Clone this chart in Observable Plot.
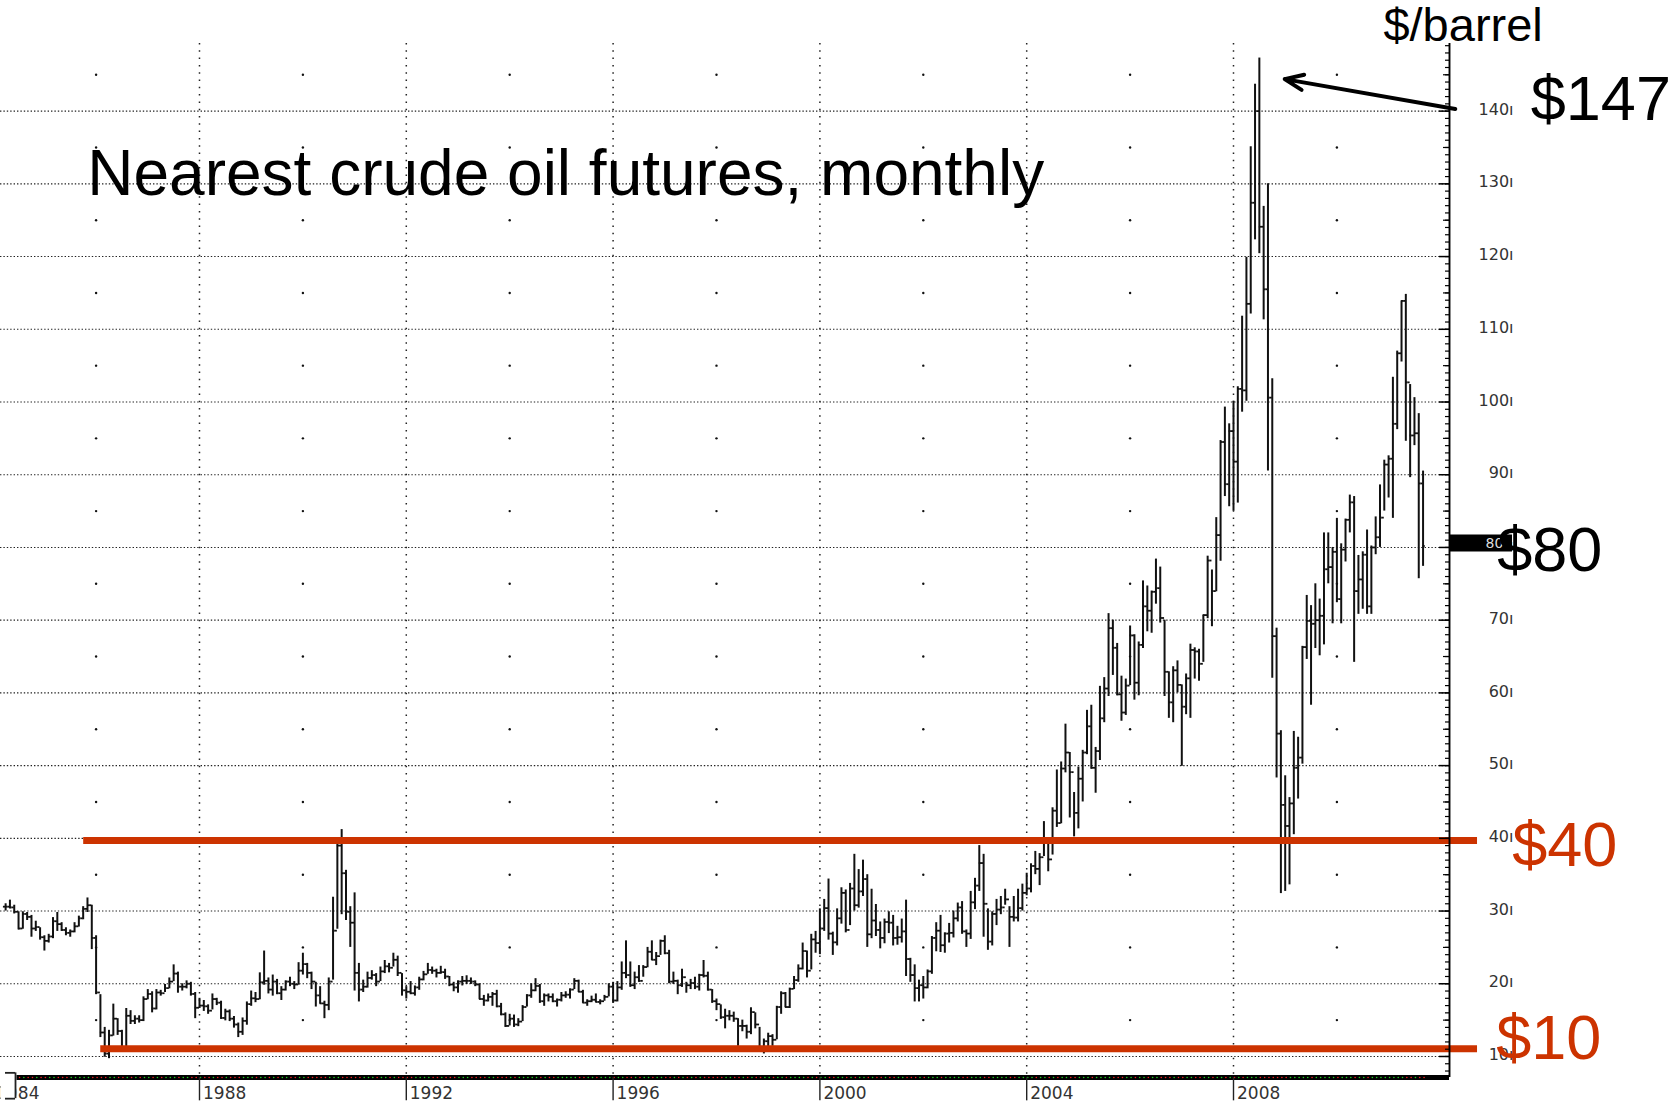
<!DOCTYPE html>
<html><head><meta charset="utf-8">
<script src="https://cdn.jsdelivr.net/npm/d3@7"></script>
<script src="https://cdn.jsdelivr.net/npm/@observablehq/plot@0.6"></script>
<style>
html,body{margin:0;padding:0;background:#fff;}
#chart{width:1671px;height:1103px;overflow:hidden;}
</style></head><body><div id="chart"></div>
<script>
// First bar: April 1984, monthly nearest crude oil futures ($/barrel)
const firstYear = 1984, firstMonth = 4;

const high = [
  31.0, 31.5, 30.8, 29.9, 29.9, 29.8, 29.4, 28.6, 27.7,                 // 1984 Apr-Dec
  26.6, 26.8, 29.1, 29.8, 28.4, 27.7, 27.4, 28.4, 29.3, 30.6, 31.8, 30.8, // 1985
  26.6, 18.5, 14.0, 13.6, 17.2, 15.2, 13.6, 16.6, 16.3, 15.6, 15.6, 18.2, // 1986
  19.2, 18.9, 19.2, 19.1, 19.9, 20.8, 22.6, 21.6, 20.0, 20.4, 20.2, 18.8, // 1987
  18.0, 17.7, 17.1, 18.6, 18.0, 17.6, 16.5, 16.4, 15.5, 14.6, 15.3, 17.5, // 1988
  19.0, 18.8, 21.5, 24.5, 20.8, 21.2, 20.6, 19.6, 20.4, 20.9, 20.3, 22.9, // 1989
  24.2, 22.8, 21.6, 20.2, 19.6, 17.6, 20.8, 31.9, 39.8, 41.2, 35.6, 30.6, // 1990
  32.5, 22.8, 20.5, 21.6, 21.8, 21.4, 22.3, 23.2, 22.8, 24.2, 23.8, 21.4, // 1991
  19.6, 20.3, 19.7, 20.9, 21.7, 22.8, 22.3, 22.0, 22.4, 22.0, 21.0, 20.2, // 1992
  20.4, 21.0, 21.1, 20.8, 20.4, 20.0, 18.4, 18.6, 18.8, 19.1, 17.3, 16.0, // 1993
  15.8, 15.7, 15.2, 17.0, 18.5, 20.0, 20.7, 19.9, 18.6, 18.6, 18.6, 17.9, // 1994
  18.8, 18.9, 19.3, 20.7, 20.5, 19.1, 17.8, 18.3, 18.6, 17.8, 18.4, 20.0, // 1995
  20.2, 20.3, 23.0, 25.9, 23.0, 21.6, 22.5, 22.5, 25.0, 25.9, 24.3, 26.0, // 1996
  26.6, 24.6, 21.6, 20.5, 22.0, 20.2, 20.6, 20.9, 21.3, 23.2, 21.6, 19.2, // 1997
  17.9, 17.1, 16.5, 16.3, 16.1, 15.2, 15.0, 14.3, 16.7, 16.0, 14.0, 12.4, // 1998
  13.2, 13.0, 16.9, 18.9, 18.8, 19.4, 21.0, 22.6, 25.6, 24.5, 26.8, 27.2, // 1999
  30.3, 31.6, 34.4, 27.1, 30.3, 33.2, 32.9, 33.8, 37.8, 35.7, 37.0, 35.0, // 2000
  33.0, 30.9, 28.5, 28.9, 29.9, 29.4, 27.9, 28.9, 31.5, 23.5, 22.6, 20.5, // 2001
  21.0, 21.9, 26.5, 28.4, 29.4, 27.0, 28.3, 30.0, 31.1, 31.3, 27.4, 32.7, // 2002
  34.5, 39.0, 37.8, 30.3, 29.9, 31.6, 32.0, 33.0, 30.6, 32.0, 33.0, 33.7, // 2003
  35.2, 36.5, 38.2, 37.9, 42.3, 40.0, 44.2, 49.4, 50.5, 55.7, 51.8, 46.3, // 2004
  49.8, 52.1, 57.6, 58.3, 52.5, 60.9, 62.1, 70.9, 70.0, 66.8, 62.3, 61.9, // 2005
  69.2, 68.0, 67.0, 75.4, 74.7, 74.0, 78.4, 77.3, 70.0, 62.9, 63.6, 64.4, // 2006
  61.1, 62.6, 66.7, 66.2, 66.0, 70.7, 78.8, 76.9, 84.1, 94.7, 99.3, 97.0, // 2007
  100.1, 102.1, 111.8, 119.9, 135.1, 143.7, 147.3, 126.9, 130.0, 103.2, 68.9, 54.8, // 2008
  48.6, 45.6, 54.7, 53.9, 66.4, 73.4, 72.0, 75.0, 72.9, 82.0, 82.0, 80.0, // 2009
  84.0, 80.5, 83.9, 87.2, 87.0, 78.9, 79.4, 82.4, 80.2, 84.2, 88.6, 92.0, // 2010
  92.6, 103.4, 107.0, 113.9, 114.8, 102.4, 100.6, 98.4, 90.5              // 2011 Jan-Sep
];
const low = [
  30.0, 30.3, 29.6, 27.4, 27.5, 28.7, 26.4, 27.2, 26.0,                 // 1984
  24.5, 25.6, 26.2, 27.2, 27.2, 26.6, 26.4, 27.0, 27.8, 28.8, 29.8, 24.7, // 1985
  18.5, 12.6, 9.9, 9.7, 12.8, 12.9, 10.8, 11.0, 14.4, 14.4, 14.6, 14.8,   // 1986
  17.8, 16.0, 16.4, 18.3, 18.8, 19.3, 20.3, 18.7, 19.0, 19.3, 18.3, 15.2, // 1987
  16.6, 16.2, 15.8, 16.4, 17.0, 15.1, 14.9, 14.8, 13.9, 12.6, 12.9, 14.3, // 1988
  16.9, 17.4, 17.8, 19.8, 18.6, 18.3, 18.5, 17.7, 19.0, 19.6, 19.2, 19.8, // 1989
  21.2, 20.7, 19.2, 16.8, 17.2, 15.2, 16.3, 20.5, 27.5, 29.5, 28.7, 25.0, // 1990
  19.0, 17.5, 18.8, 19.4, 20.5, 19.6, 20.3, 21.4, 21.5, 22.3, 21.0, 18.3, // 1991
  17.9, 18.5, 18.3, 19.1, 20.4, 21.3, 21.3, 20.8, 21.3, 20.6, 19.6, 18.9, // 1992
  18.7, 19.7, 19.9, 19.9, 19.6, 17.8, 16.9, 17.5, 16.9, 16.7, 15.6, 14.0, // 1993
  14.2, 14.0, 14.1, 14.8, 16.8, 18.0, 18.9, 17.3, 16.9, 17.5, 17.4, 16.8, // 1994
  17.5, 18.0, 17.9, 19.2, 18.8, 17.3, 16.9, 17.4, 17.4, 17.1, 17.6, 18.2, // 1995
  17.3, 17.5, 19.1, 20.7, 19.5, 19.2, 20.2, 20.9, 22.2, 23.2, 22.5, 23.9, // 1996
  24.0, 20.0, 19.9, 18.5, 19.5, 18.7, 19.2, 19.2, 19.0, 20.8, 19.0, 17.3, // 1997
  16.3, 15.1, 13.8, 14.9, 14.7, 11.4, 13.4, 12.4, 13.0, 13.8, 10.9, 10.35, // 1998
  11.3, 11.4, 12.3, 15.8, 16.7, 16.6, 19.2, 20.2, 21.9, 20.8, 21.9, 24.2, // 1999
  24.0, 27.2, 26.0, 23.9, 25.2, 28.2, 27.0, 28.0, 30.0, 30.4, 32.0, 25.0, // 2000
  26.2, 26.5, 24.8, 25.5, 26.9, 25.2, 25.3, 25.6, 21.0, 20.2, 17.5, 17.5, // 2001
  17.9, 19.3, 21.3, 24.4, 24.3, 24.2, 25.6, 26.3, 28.5, 26.8, 25.0, 26.1, // 2002
  30.2, 32.7, 26.4, 24.6, 25.2, 28.0, 29.5, 30.8, 25.0, 28.5, 28.5, 30.0, // 2003
  32.1, 32.5, 35.0, 33.5, 37.5, 35.4, 37.7, 41.5, 42.0, 49.0, 42.8, 40.2, // 2004
  41.3, 45.0, 51.5, 49.5, 46.2, 50.7, 55.9, 59.5, 62.4, 59.6, 56.1, 56.9, // 2005
  61.0, 59.0, 59.6, 66.1, 68.4, 68.2, 72.2, 69.6, 59.5, 56.5, 55.9, 60.0, // 2006
  49.9, 57.0, 56.5, 61.9, 61.6, 64.2, 70.2, 69.1, 73.9, 78.1, 87.0, 85.6, // 2007
  85.0, 86.1, 98.6, 100.1, 112.1, 122.3, 120.4, 111.3, 90.5, 62.0, 48.3, 32.4, // 2008
  32.7, 33.6, 40.5, 45.4, 50.2, 64.6, 58.3, 66.1, 65.1, 66.6, 75.0, 69.5, // 2009
  72.4, 69.5, 78.0, 82.0, 64.2, 70.8, 71.5, 70.8, 70.8, 79.0, 80.0, 85.0, // 2010
  86.8, 84.0, 96.2, 105.5, 94.6, 89.6, 94.0, 75.7, 77.4                  // 2011
];
const close = [
  30.6, 30.5, 29.9, 27.6, 29.6, 29.2, 27.6, 27.8, 26.4,                 // 1984
  25.9, 26.5, 28.6, 28.2, 27.4, 27.0, 27.2, 27.9, 29.0, 30.3, 30.8, 26.3, // 1985
  18.8, 13.3, 10.4, 12.9, 15.2, 13.5, 11.2, 15.6, 14.9, 15.2, 15.0, 17.9, // 1986
  18.6, 16.6, 18.8, 18.7, 19.4, 20.3, 21.4, 19.6, 19.6, 20.0, 18.6, 16.7, // 1987
  17.0, 16.9, 16.3, 17.9, 17.4, 15.3, 16.2, 15.2, 14.4, 13.4, 14.9, 17.2, // 1988
  18.0, 17.9, 20.2, 20.4, 19.2, 20.3, 18.7, 19.2, 20.3, 20.0, 19.9, 21.8, // 1989
  22.7, 21.5, 20.3, 18.4, 17.3, 17.1, 20.3, 27.3, 39.0, 35.2, 29.9, 28.4, // 1990
  21.5, 19.2, 19.6, 20.8, 21.2, 20.3, 21.7, 22.4, 22.2, 23.3, 21.5, 19.1, // 1991
  18.9, 18.7, 19.5, 20.6, 21.3, 21.9, 21.8, 21.5, 21.6, 21.0, 19.9, 19.5, // 1992
  20.3, 20.4, 20.4, 20.3, 19.9, 17.9, 17.7, 18.2, 18.6, 16.9, 15.8, 14.2, // 1993
  15.2, 14.4, 14.8, 16.8, 18.4, 19.1, 19.7, 17.6, 18.4, 18.2, 17.6, 17.8, // 1994
  18.4, 18.5, 19.2, 20.4, 18.9, 17.4, 17.6, 17.8, 17.5, 17.6, 18.2, 19.6, // 1995
  17.7, 19.5, 21.5, 21.2, 19.8, 20.9, 20.4, 22.3, 24.4, 23.3, 23.8, 25.9, // 1996
  24.2, 20.3, 20.4, 19.8, 20.9, 19.8, 20.1, 19.6, 21.2, 21.1, 19.2, 17.6, // 1997
  17.2, 15.4, 15.6, 15.6, 15.2, 14.2, 14.2, 13.4, 16.1, 14.4, 11.2, 12.1, // 1998
  12.8, 12.3, 16.8, 18.7, 16.8, 19.3, 20.5, 22.1, 24.5, 21.8, 26.1, 25.6, // 1999
  27.6, 30.4, 26.9, 25.7, 29.0, 32.5, 27.4, 33.1, 30.8, 32.7, 34.4, 26.8, // 2000
  28.7, 27.4, 26.3, 28.5, 28.4, 26.3, 26.4, 27.2, 23.4, 21.2, 19.4, 19.8, // 2001
  19.5, 21.7, 26.3, 27.3, 25.3, 26.9, 27.0, 29.0, 30.5, 27.2, 26.9, 31.2, // 2002
  33.5, 36.6, 31.0, 25.8, 29.6, 30.2, 30.5, 31.6, 29.2, 29.1, 30.4, 32.5, // 2003
  33.1, 36.2, 35.8, 37.4, 39.9, 37.1, 43.8, 42.1, 49.6, 51.8, 49.1, 43.5, // 2004
  48.2, 51.8, 55.4, 49.7, 52.0, 56.5, 60.6, 68.9, 66.2, 59.8, 57.3, 61.0, // 2005
  67.9, 61.4, 66.6, 71.9, 71.3, 73.9, 74.4, 70.3, 62.9, 58.7, 63.1, 61.1, // 2006
  58.1, 62.0, 65.9, 65.7, 64.0, 70.7, 78.2, 74.0, 81.7, 94.5, 88.7, 96.0, // 2007
  91.8, 101.8, 101.6, 113.5, 127.4, 140.0, 124.1, 115.5, 100.6, 67.8, 54.4, 44.6, // 2008
  41.7, 44.8, 49.7, 51.1, 66.3, 69.9, 69.5, 70.0, 70.6, 77.0, 77.3, 79.4, // 2009
  72.9, 79.7, 83.8, 86.2, 74.0, 75.6, 79.0, 71.9, 80.0, 81.4, 84.1, 91.4, // 2010
  92.2, 97.0, 106.7, 113.9, 102.7, 95.4, 95.7, 88.8, 80.2                 // 2011
];

// axis / guide values
const gridLevels = d3.range(10, 150, 10);          // dotted horizontal gridlines + labels
const gridYears = [1988, 1992, 1996, 2000, 2004, 2008];
const labelYears = [1984, 1988, 1992, 1996, 2000, 2004, 2008];
const midYears = [1986, 1990, 1994, 1998, 2002, 2006, 2010];
const midLevels = d3.range(15, 150, 10);
const lastPrice = 80.6;
const levels = [
  {value: 39.7, from: 1985.76, to: 2012.72},
  {value: 11.05, from: 1986.09, to: 2012.72}
];
const notes = [
  {text: "$/barrel", x: 2010.90, y: 149.7, size: 47, color: "#000"},
  {text: "$147", x: 2013.75, y: 138.8, size: 63, color: "#000"},
  {text: "Nearest crude oil futures, monthly", x: 1985.83, y: 128.4, size: 64, color: "#000"},
  {text: "$80", x: 2013.10, y: 76.7, size: 63, color: "#000"},
  {text: "$40", x: 2013.39, y: 36.2, size: 63, color: "#cc3300"},
  {text: "$10", x: 2013.08, y: 9.7, size: 63, color: "#cc3300"}
];
const pointer = [{x1: 2012.29, y1: 140.3, x2: 2008.99, y2: 144.4}];

// scale frame
const X0 = 1984.151, X1 = 2012.178, Y0 = 7.11, Y1 = 149.3;
const px = n => n / 51.7; // pixel length -> years

const bars = high.map((h, i) => ({
  t: firstYear + (firstMonth - 1 + i) / 12,
  high: h, low: low[i], close: close[i],
  prev: i ? close[i - 1] : close[i]
}));
const midDots = midYears.flatMap(x => midLevels.map(y => ({x, y})));
const tick1 = d3.range(8, 150, 1), tick5 = d3.range(15, 150, 10);

const barColor = "#111";
const labelFont = "'DejaVu Sans', Verdana, sans-serif";
const chart = Plot.plot({
  width: 1671, height: 1103,
  marginLeft: 0, marginRight: 222, marginTop: 43, marginBottom: 26,
  x: {domain: [X0, X1], axis: null},
  y: {domain: [Y0, Y1], axis: null},
  style: {fontFamily: "'Liberation Sans', Arial, sans-serif", background: "#fff", overflow: "visible"},
  marks: [
    // grid
    Plot.ruleY(gridLevels, {stroke: "#222", strokeWidth: 1.1, strokeDasharray: "1.4,2"}),
    Plot.ruleX(gridYears, {stroke: "#222", strokeWidth: 1.5, strokeDasharray: "1.5,5.8"}),
    Plot.dot(midDots, {x: "x", y: "y", r: 1.2, fill: "#111", stroke: null}),
    // OHLC bars
    Plot.ruleX(bars, {x: "t", y1: "low", y2: "high", stroke: barColor, strokeWidth: 2}),
    Plot.ruleY(bars, {y: "prev", x1: d => d.t - px(2.2), x2: "t", stroke: barColor, strokeWidth: 1.8}),
    Plot.ruleY(bars, {y: "close", x1: "t", x2: d => d.t + px(2.2), stroke: barColor, strokeWidth: 1.8}),
    // support / resistance lines
    Plot.ruleY(levels, {y: "value", x1: "from", x2: "to", stroke: "#cc3300", strokeWidth: 7}),
    // right price axis
    Plot.ruleX([X1], {stroke: "#000", strokeWidth: 1.9}),
    Plot.ruleY(tick1, {x1: X1 - px(4), x2: X1, stroke: "#000", strokeWidth: 1.2}),
    Plot.ruleY(tick5, {x1: X1 - px(6), x2: X1, stroke: "#000", strokeWidth: 1.2}),
    Plot.ruleY(gridLevels, {x1: X1 - px(10), x2: X1, stroke: "#000", strokeWidth: 1.5}),
    Plot.text(gridLevels, {x: X1, y: d => d, text: d => `${d}ı`, textAnchor: "end", dx: 64, dy: -1.5, fontSize: 16, fontFamily: labelFont, fill: "#333"}),
    // last price marker
    Plot.ruleY([lastPrice], {x1: X1, x2: X1 + px(63), stroke: "#000", strokeWidth: 17}),
    Plot.text([lastPrice], {x: X1, y: d => d, text: () => "80", textAnchor: "start", dx: 36, fontSize: 14, fontFamily: labelFont, fill: "#ddd"}),
    // bottom time axis
    Plot.ruleY([Y0], {x1: X0 + px(15), x2: X1, stroke: "#000", strokeWidth: 5}),
    Plot.dot(bars, {x: d => d.t + px(1), y: Y0, r: 0.8, fill: d => d.close >= d.prev ? "#22cc22" : "#ee2222", stroke: null}),
    Plot.ruleX(labelYears, {y1: Y0, y2: 3.9, stroke: "#222", strokeWidth: 1.4}),
    Plot.text(labelYears, {x: d => d, y: Y0, text: d => String(d), textAnchor: "start", lineAnchor: "bottom", dx: 3.5, dy: 21, fontSize: 17, fontFamily: labelFont, fill: "#333"}),
    // left bracket closing the time axis (masks the clipped start of the first label)
    Plot.ruleX([X0 + px(8)], {y1: 7.75, y2: 3.6, stroke: "#fff", strokeWidth: 16}),
    Plot.ruleY([7.75, 4.2], {x1: X0 + px(5), x2: X0 + px(15), stroke: "#222", strokeWidth: 1.8}),
    Plot.ruleX([X0 + px(15)], {y1: 7.75, y2: 4.2, stroke: "#222", strokeWidth: 1.8}),
    // annotations
    Plot.arrow(pointer, {x1: "x1", y1: "y1", x2: "x2", y2: "y2", stroke: "#000", strokeWidth: 4, headLength: 7.5, headAngle: 45}),
    Plot.text(notes, {x: "x", y: "y", text: "text", fontSize: d => d.size, fill: "color", textAnchor: "start", lineAnchor: "bottom"})
  ]
});
document.getElementById("chart").appendChild(chart);
</script>
</body></html>
